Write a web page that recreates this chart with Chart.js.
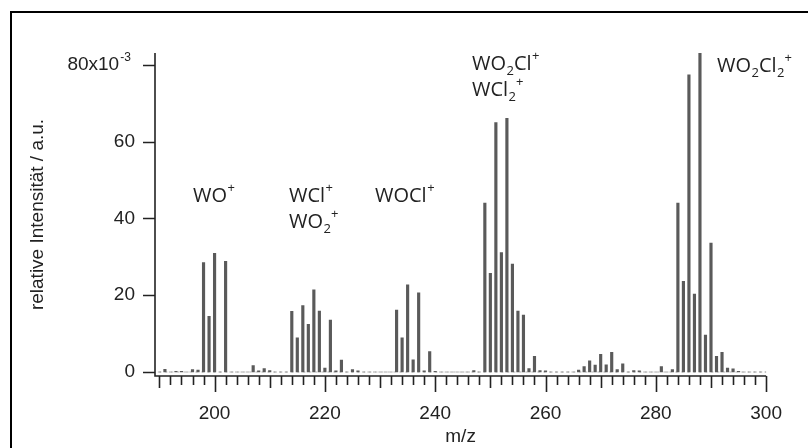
<!doctype html>
<html><head><meta charset="utf-8"><title>WOCl mass spectrum</title>
<script src="https://cdn.jsdelivr.net/npm/chart.js@4"></script>
<style>
  html, body { margin: 0; padding: 0; background: #fff; }
  #wrap { width: 808px; height: 448px; }
</style>
</head><body>
<div id="wrap"><canvas id="c" width="808" height="448"></canvas></div>
<script>
// m/z (integer masses) and relative intensity (x10^-3)
const mz = [
  190, 191, 192, 193, 194, 195, 196, 197, 198, 199,
  200, 201, 202, 203, 204, 205, 206, 207, 208, 209,
  210, 211, 212, 213, 214, 215, 216, 217, 218, 219,
  220, 221, 222, 223, 224, 225, 226, 227, 228, 229,
  230, 231, 232, 233, 234, 235, 236, 237, 238, 239,
  240, 241, 242, 243, 244, 245, 246, 247, 248, 249,
  250, 251, 252, 253, 254, 255, 256, 257, 258, 259,
  260, 261, 262, 263, 264, 265, 266, 267, 268, 269,
  270, 271, 272, 273, 274, 275, 276, 277, 278, 279,
  280, 281, 282, 283, 284, 285, 286, 287, 288, 289,
  290, 291, 292, 293, 294, 295, 296, 297, 298, 299, 300
];
const intensity = [
  0, 0.7, 0, 0.2, 0.2, 0, 0.6, 0.5, 28.5, 14.5,
  30.9, 0, 28.8, 0, 0, 0, 0, 1.7, 0.3, 0.9,
  0.4, 0, 0, 0, 15.8, 8.9, 17.3, 12.4, 21.4, 15.9,
  1.0, 13.5, 0.3, 3.1, 0, 0.6, 0.3, 0, 0, 0,
  0, 0, 0, 16.1, 8.9, 22.7, 3.2, 20.6, 0.3, 5.3,
  0.2, 0, 0, 0, 0, 0, 0, 0.4, 0, 44.0,
  25.7, 65.0, 31.1, 66.1, 28.1, 15.9, 14.8, 0.9, 4.1, 0.4,
  0.3, 0, 0, 0, 0, 0, 0.5, 1.4, 2.9, 1.8,
  4.6, 1.9, 5.1, 0.6, 2.1, 0, 0.4, 0.3, 0, 0,
  0, 1.4, 0, 0.6, 44.0, 23.6, 77.4, 20.3, 83.2, 9.6,
  33.6, 4.1, 5.1, 1.0, 0.8, 0.2, 0, 0, 0, 0, 0
];
const xTickLabels = [200, 220, 240, 260, 280, 300];
const yTickLabels = [0, 20, 40, 60, 80];

// ion labels: [text, script] where script 1 = superscript, -1 = subscript
const ionLabels = [
  { x: 193, y: 202, parts: [['WO', 0], ['+', 1]] },
  { x: 289, y: 202, parts: [['WCl', 0], ['+', 1]] },
  { x: 289, y: 228, parts: [['WO', 0], ['2', -1], ['+', 1]] },
  { x: 375, y: 202, parts: [['WOCl', 0], ['+', 1]] },
  { x: 472, y: 70, parts: [['WO', 0], ['2', -1], ['Cl', 0], ['+', 1]] },
  { x: 472, y: 96, parts: [['WCl', 0], ['2', -1], ['+', 1]] },
  { x: 717, y: 72, parts: [['WO', 0], ['2', -1], ['Cl', 0], ['2', -1], ['+', 1]] }
];

const axisFont = '"Liberation Sans", Arial, sans-serif';
const labelFont = '"Open Sans", sans-serif';
const ink = '#222';

const decor = {
  id: 'decor',
  afterDraw(chart) {
    const { ctx, chartArea: a } = chart;
    const xs = chart.scales.x, ys = chart.scales.y;
    ctx.save();
    // frame (only top and left edges fall inside the picture)
    ctx.strokeStyle = '#000';
    ctx.lineWidth = 2;
    ctx.beginPath();
    ctx.moveTo(11, 448);
    ctx.lineTo(11, 12);
    ctx.lineTo(808, 12);
    ctx.stroke();

    // axes
    ctx.strokeStyle = ink;
    ctx.lineWidth = 1.6;
    ctx.beginPath();
    ctx.moveTo(a.left, a.top);
    ctx.lineTo(a.left, a.bottom);
    ctx.lineTo(xs.getPixelForValue(300), a.bottom);
    ctx.stroke();

    // x ticks every 2, longer at 10 and 20
    ctx.beginPath();
    for (let v = 190; v <= 300; v += 2) {
      const px = Math.round(xs.getPixelForValue(v)) + 0.5;
      const len = v % 20 === 0 ? 16 : (v % 10 === 0 ? 12 : 9);
      ctx.moveTo(px, a.bottom);
      ctx.lineTo(px, a.bottom + len);
    }
    // y ticks
    for (const v of yTickLabels) {
      const py = Math.round(ys.getPixelForValue(v)) + 0.5;
      ctx.moveTo(a.left - 12, py);
      ctx.lineTo(a.left, py);
    }
    ctx.stroke();

    // exponent of the top y label
    ctx.fillStyle = ink;
    ctx.font = '19px ' + axisFont;
    const pad = chart.options.scales.y.ticks.padding;
    const tailW = ctx.measureText('   ').width;
    const py80 = ys.getPixelForValue(80);
    ctx.font = '12px ' + axisFont;
    ctx.textBaseline = 'alphabetic';
    ctx.textAlign = 'left';
    ctx.fillText('-3', a.left - pad - tailW + 1, py80 - 4);

    // ion labels
    for (const lab of ionLabels) {
      let x = lab.x;
      for (const [txt, s] of lab.parts) {
        ctx.font = (s === 0 ? '20px ' : '13px ') + labelFont;
        const dy = s === 1 ? -10 : (s === -1 ? 5 : 0);
        ctx.fillText(txt, x, lab.y + dy);
        x += ctx.measureText(txt).width + (s === 0 ? 0.5 : 0);
      }
    }
    ctx.restore();
  }
};

new Chart(document.getElementById('c'), {
  type: 'bar',
  data: {
    datasets: [
      {
        label: 'intensity',
        data: mz.map((m, i) => ({ x: m, y: intensity[i] })),
        backgroundColor: '#5a5a5a',
        borderWidth: 0,
        barThickness: 2.5,
        order: 1
      },
      {
        type: 'line',
        label: 'baseline',
        data: [{ x: 190, y: 0 }, { x: 300, y: 0 }],
        borderColor: '#b5b5b5',
        borderWidth: 1,
        borderDash: [2, 4],
        pointRadius: 0,
        order: 2
      }
    ]
  },
  options: {
    responsive: false,
    animation: false,
    layout: { padding: { top: 53, right: 40, left: 0, bottom: 0 } },
    plugins: { legend: { display: false }, tooltip: { enabled: false } },
    scales: {
      x: {
        type: 'linear',
        min: 189.2,
        max: 300,
        offset: false,
        grid: { display: false, drawTicks: false },
        border: { display: false },
        afterBuildTicks: s => { s.ticks = xTickLabels.map(v => ({ value: v })); },
        afterFit: s => { s.height = 72; },
        ticks: { padding: 26, color: ink, font: { family: axisFont, size: 19 }, maxRotation: 0, autoSkip: false },
        title: { display: true, text: 'm/z', color: ink, padding: { top: 0, bottom: 0 }, font: { family: axisFont, size: 19 } }
      },
      y: {
        min: -1.04,
        max: 83.1,
        grid: { display: false, drawTicks: false },
        border: { display: false },
        afterBuildTicks: s => { s.ticks = yTickLabels.map(v => ({ value: v })); },
        afterFit: s => { s.width = 155; },
        ticks: {
          padding: 20, color: ink, font: { family: axisFont, size: 19 },
          callback: v => (v === 80 ? '80x10   ' : String(v))
        },
        title: { display: true, text: 'relative Intensität / a.u.', color: ink, padding: { top: 26, bottom: 0 }, font: { family: axisFont, size: 19 } }
      }
    }
  },
  plugins: [decor]
});
</script>
</body></html>
